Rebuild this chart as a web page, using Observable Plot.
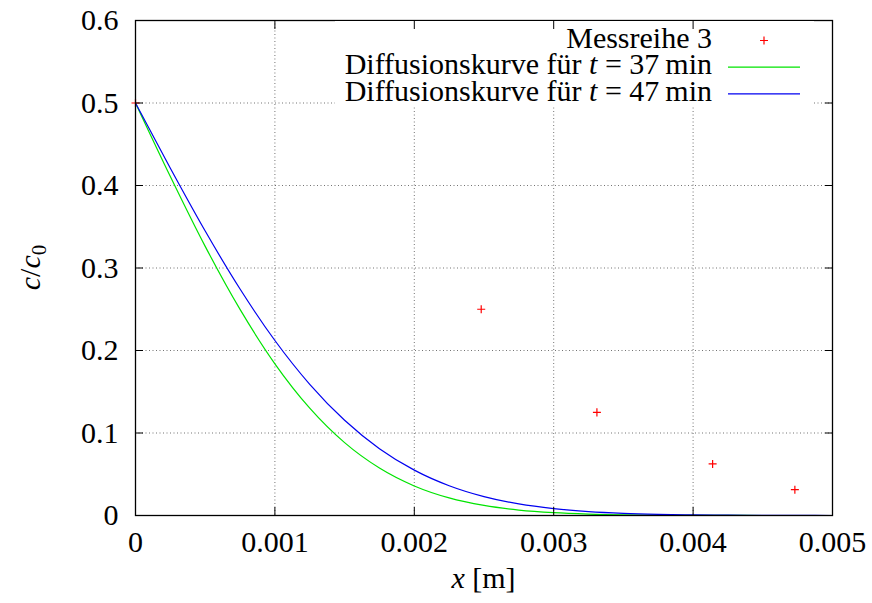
<!DOCTYPE html>
<html>
<head>
<meta charset="utf-8">
<script src="https://cdn.jsdelivr.net/npm/d3@7"></script>
<script src="https://cdn.jsdelivr.net/npm/@observablehq/plot@0.6"></script>
<style>
  html, body { margin: 0; padding: 0; background: #fff; }
  #chart { width: 872px; height: 603px; }
  #chart svg, #chart svg text, #chart svg tspan { font-family: 'Liberation Serif', 'DejaVu Serif', serif !important; }
</style>
</head>
<body>
<div id="chart"></div>
<script>
// ---- data ----
const xTicks = [0, 0.001, 0.002, 0.003, 0.004, 0.005];
const xTickLabels = ["0", "0.001", "0.002", "0.003", "0.004", "0.005"];
const yTicks = [0, 0.1, 0.2, 0.3, 0.4, 0.5, 0.6];
const yTickLabels = ["0", "0.1", "0.2", "0.3", "0.4", "0.5", "0.6"];

// Messreihe 3 (measured points)
const messX = [0, 0.00248, 0.00331, 0.00414, 0.00473];
const messY = [0.5, 0.25, 0.125, 0.0625, 0.03125];

// sample positions along the curves
const curveX = [0, 0.00025, 0.0005, 0.00075, 0.001, 0.00125, 0.0015, 0.00175, 0.002, 0.00225,
  0.0025, 0.00275, 0.003, 0.00325, 0.0035, 0.00375, 0.004, 0.00425, 0.0045, 0.00475, 0.005];
// Diffusionskurve t = 37 min (green)
const curve37 = [0.5, 0.4109, 0.3262, 0.2498, 0.1839, 0.1301, 0.0883, 0.0575, 0.0358, 0.0213,
  0.0122, 0.0066, 0.0034, 0.0017, 0.0008, 0.0004, 0.00016, 0.00007, 0.00002, 0.00001, 0.000003];
// Diffusionskurve t = 47 min (blue)
const curve47 = [0.5, 0.4209, 0.3448, 0.2745, 0.2121, 0.1590, 0.1154, 0.0810, 0.0550, 0.0361,
  0.0229, 0.0140, 0.0083, 0.0047, 0.0026, 0.0014, 0.0007, 0.00034, 0.00017, 0.00008, 0.00003];

const legendLabels = ["Messreihe 3", "Diffusionskurve für ", "Diffusionskurve für "];
const legendTimes = [null, "37", "47"];

// ---- tables ----
const points = messX.map((x, i) => ({x, y: messY[i]}));
const line37 = curveX.map((x, i) => ({x, y: curve37[i]}));
const line47 = curveX.map((x, i) => ({x, y: curve47[i]}));

const FONT = "'Liberation Serif', 'DejaVu Serif', serif";
const FS = 30;
const GREEN = "#00e400", BLUE = "#0000f0", RED = "#ff0000";

const grid = {stroke: "#000", strokeOpacity: 0.55, strokeWidth: 1, strokeDasharray: "1,2.5"};

const plot = Plot.plot({
  width: 872,
  height: 603,
  marginLeft: 135,
  marginRight: 40,
  marginTop: 20,
  marginBottom: 88,
  style: {fontFamily: FONT, fontSize: FS + "px", background: "#fff", color: "#000"},
  x: {domain: [0, 0.005], label: null},
  y: {domain: [0, 0.6], label: null},
  marks: [
    Plot.gridX(xTicks.slice(1, -1), grid),
    Plot.gridY(yTicks.slice(1, -1), grid),
    Plot.line(line37, {x: "x", y: "y", stroke: GREEN, strokeWidth: 1.2, curve: "monotone-x"}),
    Plot.line(line47, {x: "x", y: "y", stroke: BLUE, strokeWidth: 1.2, curve: "monotone-x"}),
    Plot.dot(points, {x: "x", y: "y", symbol: "plus", r: 2.7, stroke: RED, strokeWidth: 1.2}),
    Plot.axisX(xTicks, {anchor: "bottom", tickSize: 0, tickPadding: 15, fontSize: FS, fontFamily: FONT,
      tickFormat: (d) => xTickLabels[xTicks.indexOf(d)], label: null}),
    Plot.axisX(xTicks, {anchor: "bottom", tickSize: -8, text: null, label: null}),
    Plot.axisX(xTicks, {anchor: "top", tickSize: -8, text: null, label: null}),
    Plot.axisY(yTicks, {anchor: "left", tickSize: 0, tickPadding: 17, fontSize: FS, fontFamily: FONT,
      tickFormat: (d) => yTickLabels[yTicks.indexOf(d)], label: null}),
    Plot.axisY(yTicks, {anchor: "left", tickSize: -8, text: null, label: null}),
    Plot.axisY(yTicks, {anchor: "right", tickSize: -8, text: null, label: null}),
    Plot.frame({stroke: "#000", strokeWidth: 1.3})
  ]
});

document.getElementById("chart").appendChild(plot);

// ---- axis titles and key (drawn in the plot's SVG using its scales) ----
const svg = d3.select(plot);
const sx = plot.scale("x"), sy = plot.scale("y");
const xl = sx.apply(0), xr = sx.apply(0.005), yt = sy.apply(0.6), yb = sy.apply(0);

// x label
const xt = svg.append("text").attr("x", (xl + xr) / 2).attr("y", yb + 73)
  .attr("text-anchor", "middle").attr("font-size", FS);
xt.append("tspan").attr("font-style", "italic").text("x");
xt.append("tspan").text(" [m]");

// y label
const ytx = svg.append("text")
  .attr("transform", `translate(${40},${(yt + yb) / 2}) rotate(-90)`)
  .attr("text-anchor", "middle").attr("font-size", FS);
ytx.append("tspan").attr("font-style", "italic").text("c");
ytx.append("tspan").text("/");
ytx.append("tspan").attr("font-style", "italic").text("c");
ytx.append("tspan").attr("font-size", FS * 0.7).attr("dy", 6).text("0");

// key
const key = svg.append("g");
const keyTextRight = xr - 120, keyTop = yt;
const rowH = 26.7, firstRow = keyTop + 20.5;
key.append("rect").attr("x", xl + 200).attr("y", keyTop + 1).attr("width", xr - 18 - (xl + 200))
  .attr("height", rowH * 3 + 6).attr("fill", "#fff");
legendLabels.forEach((lab, i) => {
  const cy = firstRow + i * rowH;
  const t = key.append("text").attr("x", keyTextRight).attr("y", cy + 7)
    .attr("text-anchor", "end").attr("font-size", FS);
  t.append("tspan").text(lab);
  if (legendTimes[i]) {
    t.append("tspan").attr("font-style", "italic").text("t");
    t.append("tspan").text(" = " + legendTimes[i] + "\u2009min");
  }
  if (i === 0) {
    key.append("path").attr("d", `M${xr - 72},${cy}h8M${xr - 68},${cy - 4}v8`)
      .attr("stroke", RED).attr("stroke-width", 1.2).attr("fill", "none");
  } else {
    key.append("line").attr("x1", xr - 104).attr("x2", xr - 32).attr("y1", cy).attr("y2", cy)
      .attr("stroke", i === 1 ? GREEN : BLUE).attr("stroke-width", 1.2);
  }
});
// keep the axis ticks above the key box
svg.selectAll("g[aria-label='x-axis tick']").raise();
// make sure every text uses the serif face
svg.selectAll("text, tspan").attr("font-family", FONT).style("font-family", FONT);
svg.selectAll("g[aria-label$='tick label']").attr("font-family", FONT).style("font-family", FONT);
</script>
</body>
</html>
